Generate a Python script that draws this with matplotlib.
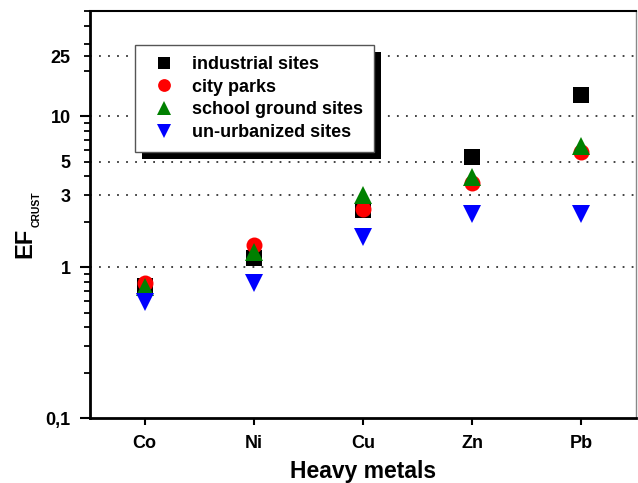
import matplotlib
matplotlib.use("Agg")
import matplotlib.pyplot as plt
from matplotlib.patches import Rectangle

plt.rcParams['font.family'] = ['Liberation Sans', 'DejaVu Sans']
plt.rcParams['font.weight'] = 'bold'

metals = ["Co", "Ni", "Cu", "Zn", "Pb"]
industrial = [0.75, 1.15, 2.38, 5.4, 13.9]
city_parks = [0.79, 1.4, 2.45, 3.6, 5.8]
school = [0.74, 1.26, 3.0, 3.96, 6.4]
unurban = [0.59, 0.78, 1.58, 2.27, 2.27]

series = [
    ("industrial sites", industrial, 's', 'black', 11),
    ("city parks", city_parks, 'o', 'red', 11.5),
    ("school ground sites", school, '^', 'green', 13),
    ("un-urbanized sites", unurban, 'v', 'blue', 13),
]

fig = plt.figure(figsize=(6.38, 4.83), dpi=100)
ax = fig.add_axes([90 / 638, 1 - 418 / 483, 546 / 638, 407 / 483])

x = list(range(len(metals)))
for label, vals, mk, col, ms in series:
    ax.plot(x, vals, linestyle='none', marker=mk, color=col, markersize=ms,
            markeredgewidth=0, label=label, zorder=3)

ax.set_yscale('log')
ax.set_ylim(0.1, 50)
ax.set_xlim(-0.5, 4.5)

for g in [1, 3, 5, 10, 25]:
    ax.axhline(g, color='#333333', linestyle=(0, (1, 4)), lw=1.3, zorder=1)

ax.set_yticks([0.1, 1, 10], labels=["0,1", "1", "10"])
minor = []
minor_labels = []
for dec in [0.1, 1, 10]:
    for m in range(2, 10):
        v = round(m * dec, 3)
        if v > 50:
            continue
        minor.append(v)
        minor_labels.append({3: "3", 5: "5"}.get(v, ""))
minor.append(25)
minor_labels.append("25")
ax.set_yticks(minor, labels=minor_labels, minor=True)

ax.set_xticks(x, labels=metals)
ax.tick_params(axis='y', which='major', length=7, width=1.5, direction='out', labelsize=13, pad=7)
ax.tick_params(axis='y', which='minor', length=4, width=1.3, direction='out', labelsize=13, pad=10)
ax.tick_params(axis='x', length=5, width=1.5, direction='out', labelsize=13, pad=7)
for t in ax.get_yticklabels(minor=True) + ax.get_yticklabels() + ax.get_xticklabels():
    t.set_fontweight('bold')

ax.spines['left'].set_linewidth(2)
ax.spines['bottom'].set_linewidth(2)
ax.spines['top'].set_linewidth(1.5)
ax.spines['right'].set_linewidth(1)
ax.spines['right'].set_color('#888888')

ax.set_xlabel("Heavy metals", fontsize=16.5, fontweight='bold', labelpad=6)
fig.text(25 / 638, 1 - 258 / 483, "EF", rotation=90, ha='center', va='bottom',
         fontsize=17, fontweight='bold')
fig.text(37 / 638, 1 - 227 / 483, "CRUST", rotation=90, ha='center', va='bottom',
         fontsize=7.5, fontweight='bold')

leg = ax.legend(loc='upper left', bbox_to_anchor=(45 / 546, 373 / 407), borderaxespad=0,
                fancybox=False, framealpha=1, edgecolor='#555555', fontsize=13,
                labelspacing=0.32, handletextpad=0.55, borderpad=0.6, handlelength=2.0,
                markerscale=0.8)
leg.get_frame().set_linewidth(1)
leg.set_zorder(5)
for t in leg.get_texts():
    t.set_fontweight('bold')

fig.canvas.draw()
bb = leg.get_window_extent()
shadow = Rectangle((bb.x0 + 7, bb.y0 - 7), bb.width, bb.height, transform=None,
                   facecolor='black', edgecolor='none', zorder=4)
ax.add_artist(shadow)
shadow.set_clip_on(False)

fig.savefig("out.png", dpi=100)
